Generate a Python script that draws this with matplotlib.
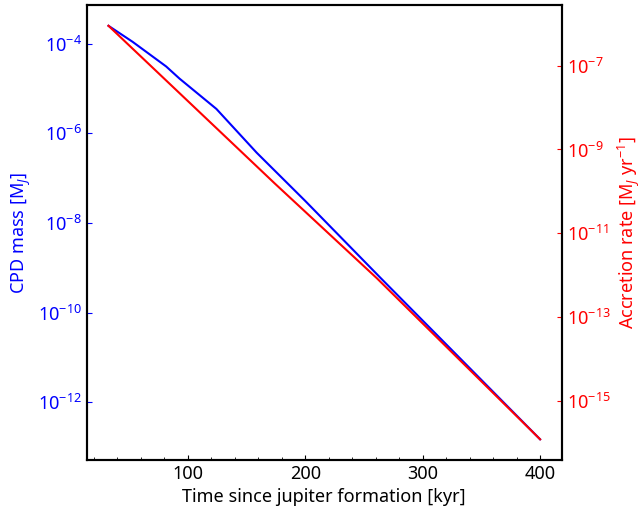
import matplotlib
matplotlib.use("Agg")
import matplotlib.pyplot as plt
from matplotlib.ticker import LogLocator, NullLocator, MultipleLocator

plt.rcParams["font.family"] = ["Noto Sans", "DejaVu Sans"]
plt.rcParams["mathtext.fontset"] = "custom"
plt.rcParams["mathtext.rm"] = "Noto Sans"
plt.rcParams["mathtext.it"] = "Noto Sans:italic"
plt.rcParams["font.size"] = 13

# CPD mass
t_mass = [32.4, 52.9, 81.5, 92.9, 124.3, 158.6, 200, 264, 400]
cpd_mass = [2.5e-4, 1.1e-4, 3.1e-5, 1.66e-5, 3.5e-6, 3.7e-7, 3.1e-8, 6.0e-10, 1.5e-13]

# accretion rate
t_rate = [32.4, 174, 261, 400]
acc_rate = [8.9e-7, 1.55e-10, 8.5e-13, 1.23e-16]

fig, ax = plt.subplots(figsize=(6.39, 5.12), dpi=100)
fig.subplots_adjust(left=0.136, right=0.879, top=0.990, bottom=0.1016)

ax.plot(t_mass, cpd_mass, color="blue", lw=1.5)
ax.set_yscale("log")
ax.set_xlabel("Time since jupiter formation [kyr]")
ax.set_ylabel("CPD mass [M$_J$]", color="blue")
ax.yaxis.set_major_locator(LogLocator(base=100.0))
ax.yaxis.set_minor_locator(NullLocator())
ax.xaxis.set_major_locator(MultipleLocator(100))
ax.xaxis.set_minor_locator(MultipleLocator(20))
ax.tick_params(axis="y", colors="blue", direction="in")
ax.tick_params(axis="x", which="both", direction="in")

ax2 = ax.twinx()
ax2.plot(t_rate, acc_rate, color="red", lw=1.5)
ax2.set_yscale("log")
ax2.set_ylabel("Accretion rate [M$_J$ yr$^{-1}$]", color="red")
ax2.yaxis.set_major_locator(LogLocator(base=100.0, subs=(0.1,)))
ax2.yaxis.set_minor_locator(NullLocator())
ax2.tick_params(axis="y", colors="red", direction="in")

for a in (ax, ax2):
    for s in a.spines.values():
        s.set_linewidth(1.5)
        s.set_color("black")

fig.savefig("out.png")
